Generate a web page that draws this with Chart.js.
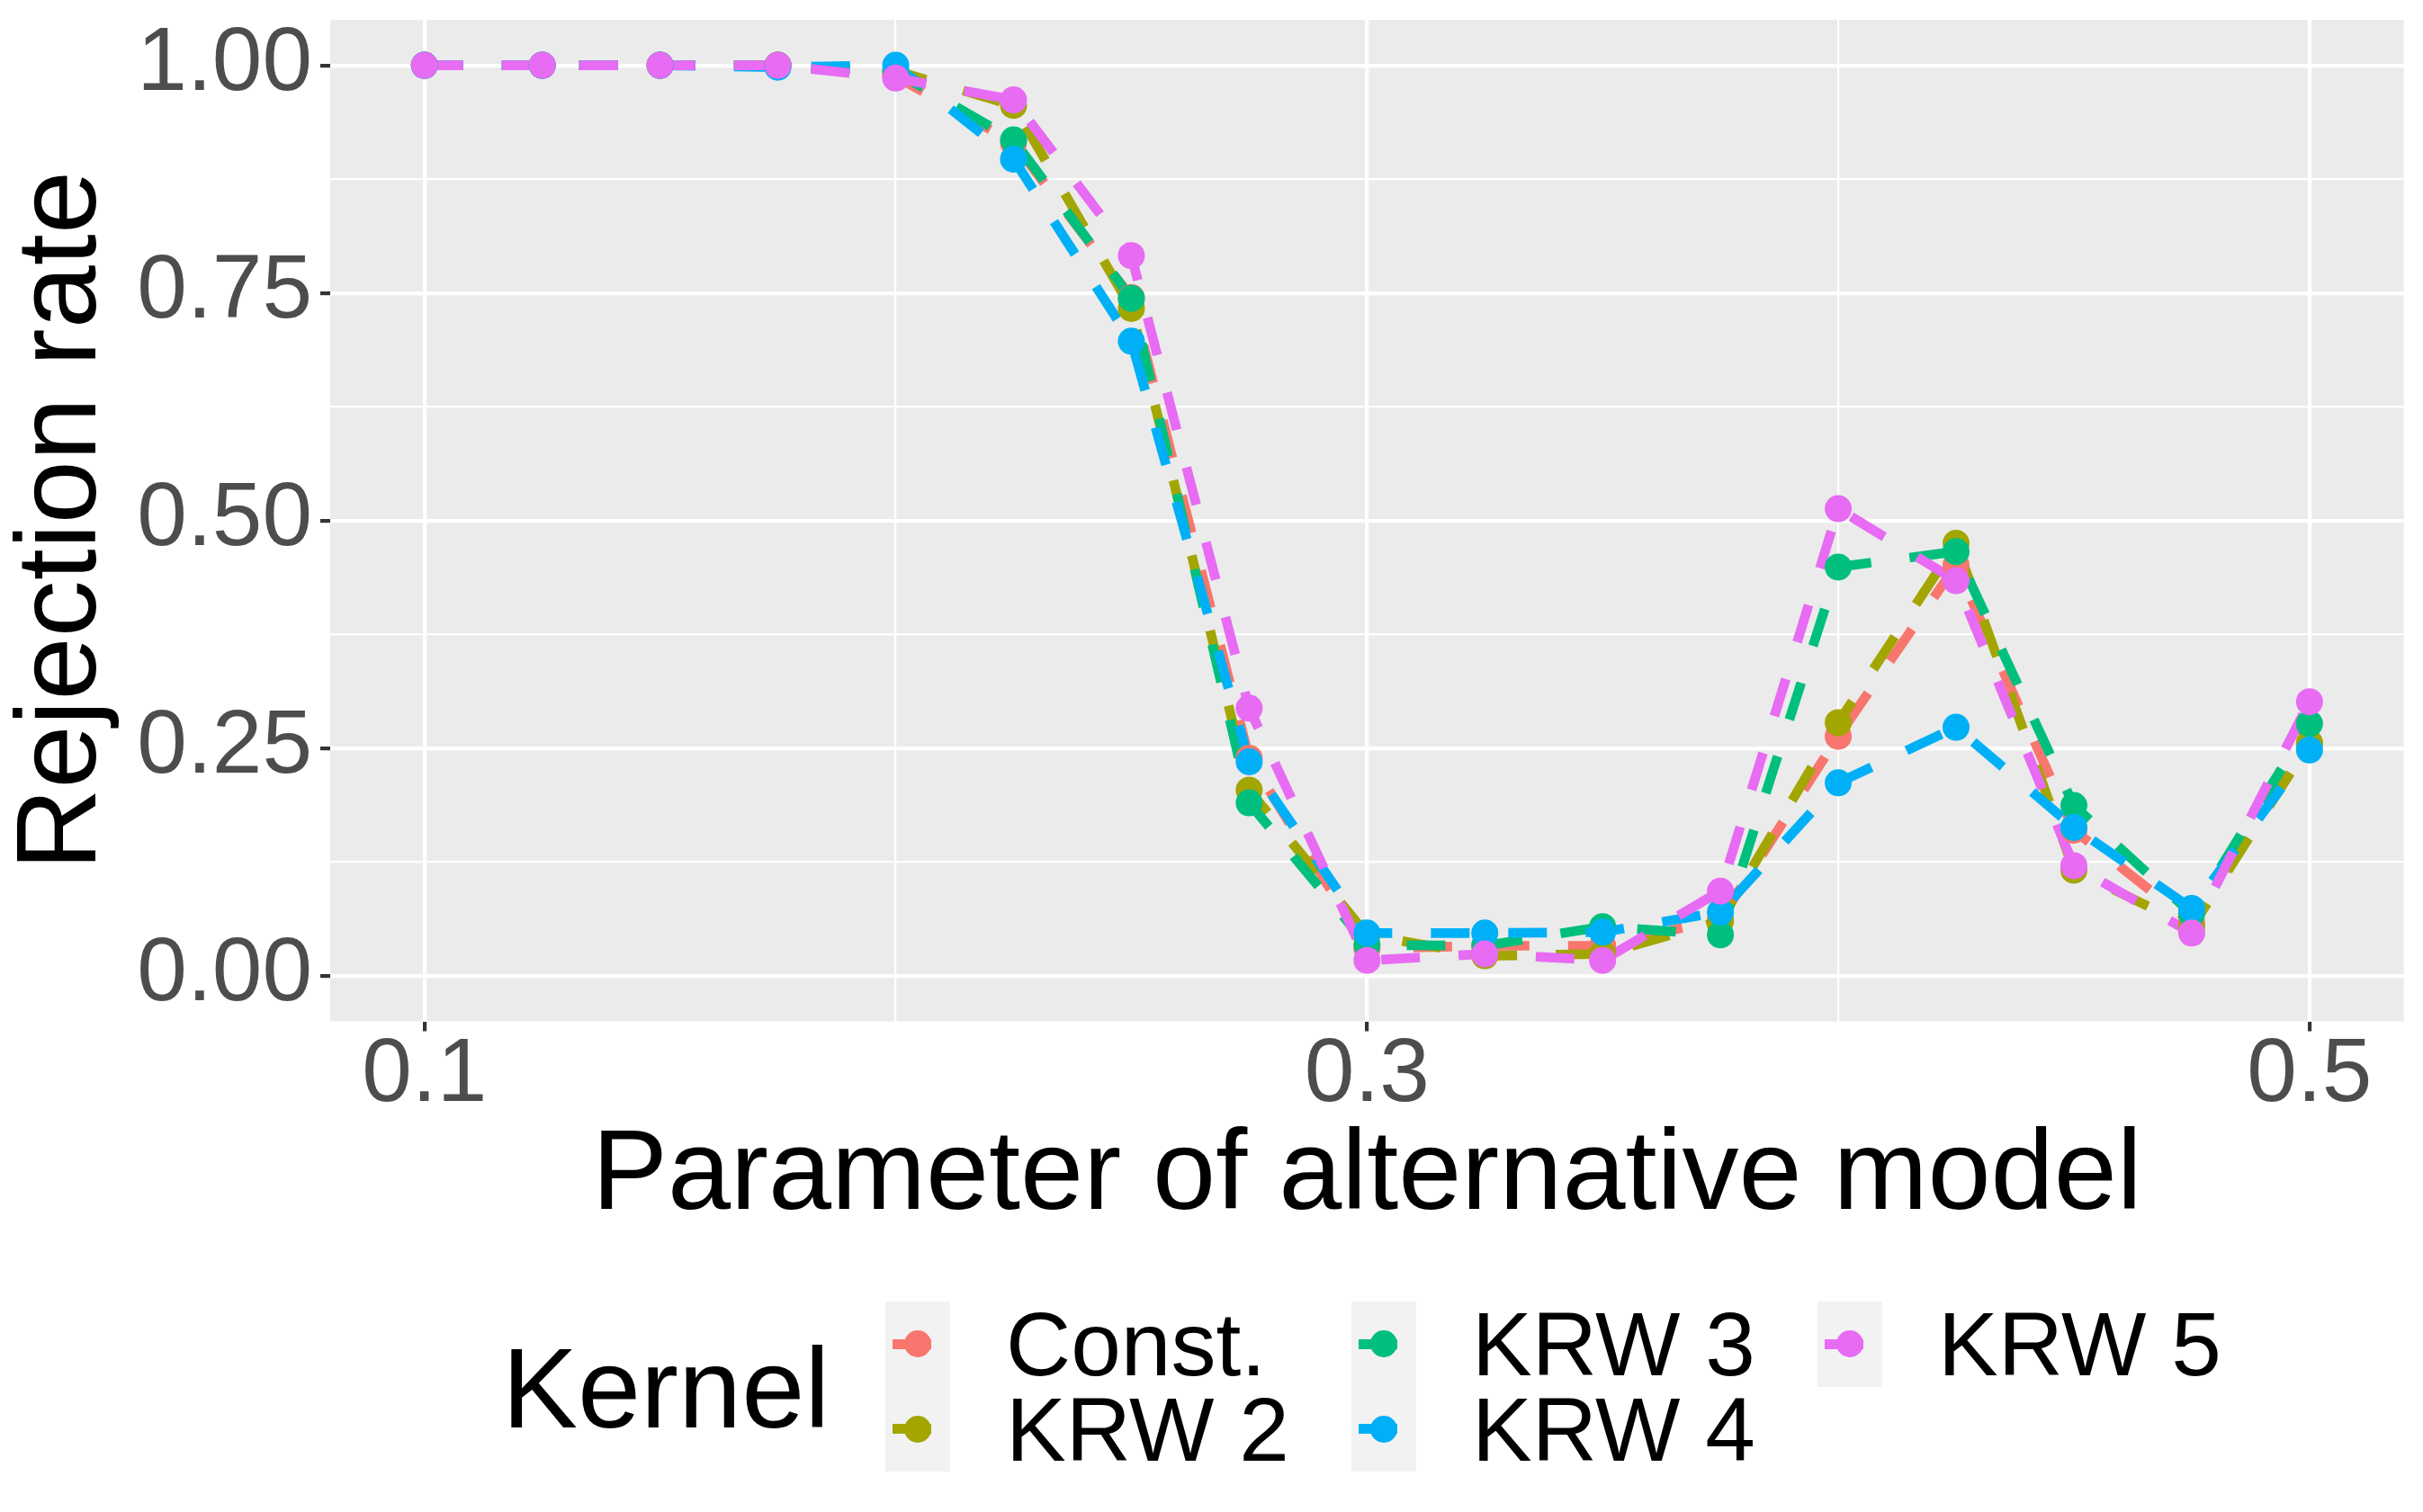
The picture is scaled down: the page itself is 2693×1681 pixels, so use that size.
<!DOCTYPE html>
<html><head><meta charset="utf-8">
<script src="https://cdn.jsdelivr.net/npm/chart.js@4.4.0/dist/chart.umd.min.js"></script>
<style>
html,body{margin:0;padding:0;background:#fff;}
#wrap{position:relative;width:2693px;height:1681px;overflow:hidden;font-family:"Liberation Sans",Arial,sans-serif;}
#c{position:absolute;left:0;top:0;width:2693px;height:1681px;}
.lg{position:absolute;white-space:nowrap;}
</style></head><body>
<div id="wrap"><canvas id="c" width="2693" height="1681"></canvas><div id="legend"></div></div>
<script>
// ---- data ----
const xValues = [0.1,0.125,0.15,0.175,0.2,0.225,0.25,0.275,0.3,0.325,0.35,0.375,0.4,0.425,0.45,0.475,0.5];
const constRates = [1,1,1,1,0.988,0.915,0.745,0.239,0.030,0.033,0.033,0.062,0.263,0.451,0.160,0.058,0.255];
const krw2Rates  = [1,1,1,1,0.994,0.956,0.733,0.204,0.045,0.022,0.024,0.060,0.278,0.475,0.116,0.053,0.256];
const krw3Rates  = [1,1,1,1,0.993,0.918,0.744,0.190,0.034,0.033,0.054,0.045,0.449,0.466,0.187,0.068,0.277];
const krw4Rates  = [1,1,1,0.998,1.0,0.897,0.697,0.235,0.047,0.047,0.048,0.070,0.212,0.273,0.163,0.074,0.248];
const krw5Rates  = [1,1,1,1,0.986,0.962,0.791,0.294,0.017,0.024,0.017,0.093,0.513,0.434,0.121,0.047,0.301];
const seriesNames = ['Const.','KRW 2','KRW 3','KRW 4','KRW 5'];
const seriesValues = [constRates,krw2Rates,krw3Rates,krw4Rates,krw5Rates];
const seriesColors = ['#F8766D','#A3A500','#00BF7D','#00B0F6','#E76BF3'];
const yMajorTicks = [0,0.25,0.5,0.75,1];
const yMinorTicks = [0.125,0.375,0.625,0.875];
const yTickLabels = ['0.00','0.25','0.50','0.75','1.00'];
const xMajorTicks = [0.1,0.3,0.5];
const xMinorTicks = [0.2,0.4];
const xTickLabels = ['0.1','0.3','0.5'];
const xTitle = 'Parameter of alternative model';
const yTitle = 'Rejection rate';
const legendTitle = 'Kernel';

// ---- helpers ----
const near = (a,b)=>Math.abs(a-b)<1e-9;
const majorIdx = (list,v)=>list.findIndex(m=>near(m,v));
const FONT = '"Liberation Sans", Arial, sans-serif';
const LW = 10.7;

const datasets = [];
seriesValues.forEach((vals,i)=>{
  datasets.push({
    type:'line', label:seriesNames[i],
    data:xValues.map((x,j)=>({x:x,y:vals[j]})),
    borderColor:seriesColors[i], borderWidth:LW, borderDash:[43,43],
    borderCapStyle:'butt', borderJoinStyle:'round', tension:0,
    pointRadius:0, fill:false, order:10-i
  });
});
seriesValues.forEach((vals,i)=>{
  datasets.push({
    type:'line', label:seriesNames[i]+' pts', showLine:false,
    data:xValues.map((x,j)=>({x:x,y:vals[j]})),
    pointRadius:15, pointBackgroundColor:seriesColors[i], pointBorderWidth:0,
    borderColor:seriesColors[i], order:5-i
  });
});

const panelBg = {id:'panelBg', beforeDraw(chart){
  const {ctx, chartArea:a} = chart;
  ctx.save(); ctx.fillStyle='#EBEBEB';
  ctx.fillRect(a.left,a.top,a.right-a.left,a.bottom-a.top); ctx.restore();
}};

function gridOpts(majors){
  return {
    color:'#FFFFFF',
    lineWidth:(c)=> (c.tick && majorIdx(majors,c.tick.value)>=0) ? 4.2 : 2.2,
    drawTicks:true, tickLength:11,
    tickColor:(c)=> (c.tick && majorIdx(majors,c.tick.value)>=0) ? '#333333' : 'rgba(0,0,0,0)',
    tickWidth:4.2
  };
}

new Chart(document.getElementById('c'), {
  data:{datasets:datasets},
  plugins:[panelBg],
  options:{
    responsive:false, devicePixelRatio:1, animation:false, events:[],
    layout:{padding:{top:22,right:21.4,left:0,bottom:305.5}},
    plugins:{legend:{display:false}, tooltip:{enabled:false}},
    scales:{
      x:{type:'linear', min:0.08, max:0.52,
        afterBuildTicks:(s)=>{ s.ticks = xMajorTicks.concat(xMinorTicks).sort((a,b)=>a-b).map(v=>({value:v})); },
        afterFit:(s)=>{ s.height = 240; s.paddingLeft = 0; s.paddingRight = 0; },
        border:{display:false},
        grid:gridOpts(xMajorTicks),
        ticks:{autoSkip:false, maxRotation:0, padding:0, color:'#4D4D4D',
          font:{family:FONT,size:100,lineHeight:1},
          callback:(v)=>{ const i=majorIdx(xMajorTicks,v); return i>=0?xTickLabels[i]:''; }},
        title:{display:true, text:xTitle, color:'#000000', padding:{top:0,bottom:3.5},
          font:{family:FONT,size:126,lineHeight:1}}
      },
      y:{type:'linear', min:-0.05, max:1.05,
        afterBuildTicks:(s)=>{ s.ticks = yMajorTicks.concat(yMinorTicks).sort((a,b)=>a-b).map(v=>({value:v})); },
        afterFit:(s)=>{ s.width = 367; s.paddingTop = 0; s.paddingBottom = 0; },
        border:{display:false},
        grid:gridOpts(yMajorTicks),
        ticks:{autoSkip:false, padding:9, color:'#4D4D4D',
          font:{family:FONT,size:100,lineHeight:1},
          callback:(v)=>{ const i=majorIdx(yMajorTicks,v); return i>=0?yTickLabels[i]:''; }},
        title:{display:true, text:yTitle, color:'#000000', padding:{top:8,bottom:0},
          font:{family:FONT,size:126,lineHeight:1}}
      }
    }
  }
});

// ---- legend (HTML) ----
const lg = document.getElementById('legend');
function el(style, text){
  const d=document.createElement('div'); d.className='lg';
  Object.assign(d.style, style); if(text!==undefined) d.textContent=text; lg.appendChild(d); return d;
}
el({left:'558px',top:'1481px',fontSize:'126px',lineHeight:'126px',color:'#000'}, legendTitle);
const keyTop=1447, rowH=94.5, keyW=72, colLefts=[984,1502,2020];
seriesNames.forEach((name,i)=>{
  const col=Math.floor(i/2), row=i%2;
  const kx=colLefts[col], ky=keyTop+row*rowH, cy=ky+rowH/2, cx=kx+keyW/2;
  el({left:kx+'px',top:ky+'px',width:keyW+'px',height:rowH+'px',background:'#F2F2F2'});
  el({left:(kx+7.5)+'px',top:(cy-LW/2)+'px',width:'43px',height:LW+'px',background:seriesColors[i]});
  el({left:(cx-15)+'px',top:(cy-15)+'px',width:'30px',height:'30px',borderRadius:'50%',background:seriesColors[i]});
  el({left:(kx+134)+'px',top:ky+'px',fontSize:'100px',lineHeight:rowH+'px',color:'#000'}, name);
});
</script>
</body></html>
